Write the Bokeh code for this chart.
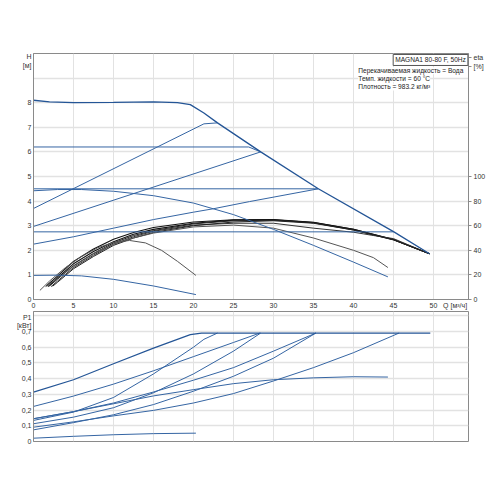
from bokeh.plotting import figure
from bokeh.models import Range1d, LinearAxis, FixedTicker, Label
from bokeh.layouts import column
from bokeh.embed import file_html
from bokeh.resources import INLINE

# ---------------- data ----------------
q_ticks = [0, 5, 10, 15, 20, 25, 30, 35, 40, 45, 50]
q_label_pos = 52.7
q_label = "Q [м³/ч]"
h_ticks = [0, 1, 2, 3, 4, 5, 6, 7, 8]
h_grid = [0, 1, 2, 3, 4, 5, 6, 7, 8, 9, 10]
h_label_pos = [9.88, 9.5]
h_label = ["H", "[м]"]
eta_ticks = [0, 20, 40, 60, 80, 100]
eta_label_pos = [196.8, 189.4]
eta_label = ["eta", "[%]"]
p_ticks = [0.0, 0.1, 0.2, 0.3, 0.4, 0.5, 0.6, 0.7]
p_grid = [0.0, 0.1, 0.2, 0.3, 0.4, 0.5, 0.6, 0.7, 0.8]
p_labels = ["0", "0,1", "0,2", "0,3", "0,4", "0,5", "0,6", "0,7"]
p_label_pos = [0.79, 0.737]
p_label = ["P1", "[кВт]"]

# head curves (Q m3/h, H m)
max_q = [0, 2, 5, 10, 15, 18, 19.6, 21.3, 23, 28.4, 35.6, 45, 49.5]
max_h = [8.1, 8.03, 8.0, 8.01, 8.03, 8.0, 7.92, 7.58, 7.18, 6.0, 4.5, 2.76, 1.86]
c62_q = [0, 26.9, 28.4]
c62_h = [6.2, 6.2, 6.0]
c45_q = [0, 35.6]
c45_h = [4.5, 4.5]
c275_q = [0, 45.0]
c275_h = [2.75, 2.75]
pa_q = [0, 21.3, 23]
pa_h = [3.7, 7.14, 7.18]
pb_q = [0, 28.4]
pb_h = [2.97, 6.0]
pc_q = [0, 5, 10, 15, 20, 22.5, 27, 35.6]
pc_h = [2.25, 2.55, 2.9, 3.25, 3.55, 3.69, 3.98, 4.5]
ad_q = [0, 3, 6, 10, 15, 20, 25, 30, 35, 40, 44.3]
ad_h = [4.42, 4.47, 4.47, 4.4, 4.22, 3.92, 3.45, 2.85, 2.2, 1.52, 0.92]
lo_q = [0, 3, 6, 10, 15, 20.3]
lo_h = [0.98, 0.99, 0.96, 0.82, 0.55, 0.2]

# efficiency curves (Q m3/h, eta %)
e1_q = [0.8, 2, 4, 6, 8, 10, 12, 14, 16, 18, 20.3]
e1_v = [7.4, 15, 26, 35, 42, 46.4, 48, 46, 40, 31, 19.6]
e2_q = [1.5, 3, 5, 7.5, 10, 12.5, 15, 20, 25, 30, 35, 40, 42.5, 44.3]
e2_v = [10.5, 17, 27, 37, 45, 50, 54, 59, 60.5, 58, 50, 40, 34, 26]
k1_q = [1.6, 3, 5, 7.5, 10, 12.5, 15, 20, 25, 30, 35, 40, 45, 49.5]
k1_v = [11, 19, 31, 41, 49, 54.5, 58.5, 63, 64.8, 65, 62.8, 57, 48.8, 37.2]
k2_q = [1.8, 3, 5, 7.5, 10, 12.5, 15, 20, 25, 30, 35, 40, 45, 49.5]
k2_v = [10.5, 17.5, 29, 39, 47, 53, 57, 62, 64.5, 64.8, 62.5, 57, 48.8, 37.2]
k3_q = [2.0, 3, 5, 7.5, 10, 12.5, 15, 20, 25, 30, 35, 40, 45, 49.5]
k3_v = [11, 16.5, 27.5, 37.5, 46, 52, 56, 61.5, 64, 64.5, 62.3, 56.5, 48.5, 37.2]
k4_q = [2.2, 3, 5, 7.5, 10, 12.5, 15, 20, 25, 30, 35, 40, 42.5, 45, 49.5]
k4_v = [10.5, 15, 26, 36, 45, 51, 55.5, 60.5, 62, 62, 58, 54.7, 52, 49.5, 37.2]
k5_q = [2.4, 3, 5, 7.5, 10, 12.5, 15, 20, 25, 30, 35, 40, 45, 49.5]
k5_v = [10.8, 14, 25, 35, 44, 50, 54.5, 60, 63, 64, 62, 56.5, 48.5, 37.2]

# power curves (Q m3/h, P1 kW)
wmax_q = [0, 5, 10, 15, 19.6, 21, 49.6]
wmax_p = [0.314, 0.393, 0.495, 0.594, 0.68, 0.69, 0.69]
w62_q = [0, 5, 10, 15, 20, 25, 28.3]
w62_p = [0.223, 0.289, 0.365, 0.45, 0.54, 0.63, 0.69]
wa_q = [0, 5, 10, 15, 20, 21.3, 23]
wa_p = [0.134, 0.187, 0.28, 0.43, 0.6, 0.65, 0.69]
wb_q = [0, 5, 10, 15, 20, 25, 28.4]
wb_p = [0.113, 0.155, 0.215, 0.31, 0.43, 0.575, 0.69]
w45_q = [0, 5, 10, 15, 20, 25, 30, 35.3]
w45_p = [0.145, 0.19, 0.245, 0.315, 0.39, 0.47, 0.575, 0.69]
wc_q = [0, 5, 10, 15, 20, 25, 30, 35.3]
wc_p = [0.074, 0.12, 0.17, 0.235, 0.32, 0.415, 0.53, 0.69]
w275_q = [0, 5, 10, 15, 20, 25, 30, 35, 40, 45.7]
w275_p = [0.091, 0.125, 0.163, 0.198, 0.245, 0.305, 0.385, 0.47, 0.565, 0.69]
wd_q = [0, 5, 10, 15, 20, 25, 30, 35, 40, 44.3]
wd_p = [0.145, 0.19, 0.24, 0.29, 0.33, 0.368, 0.393, 0.405, 0.412, 0.41]
we_q = [0, 5, 10, 15, 20.3]
we_p = [0.021, 0.033, 0.043, 0.05, 0.053]

title_text = "MAGNA1 80-80 F, 50Hz"
info_lines = ["Перекачиваемая жидкость = Вода",
              "Темп. жидкости = 60 °C",
              "Плотность = 983.2 кг/м³"]

# ---------------- style ----------------
FONT = "Liberation Sans"
BLUE = "#3565a3"
DARKBLUE = "#245596"
GRID = "#e2e2e2"
W = 492
XR = (0, 54.375)


def style_axis(ax, tick_out=0):
    ax.major_label_text_font = FONT
    ax.major_label_text_font_size = "7px"
    ax.major_label_text_color = "#333333"
    ax.axis_line_color = "#8a8a8a"
    ax.major_tick_line_color = "#8a8a8a"
    ax.minor_tick_line_color = None
    ax.major_tick_in = 0
    ax.major_tick_out = tick_out
    ax.major_label_standoff = 2


# ---------------- top: H and eta ----------------
p = figure(width=W, height=311, x_range=Range1d(*XR), y_range=Range1d(0, 10),
           output_backend="svg", toolbar_location=None,
           min_border_left=33, min_border_right=24, min_border_top=53,
           min_border_bottom=12)
p.extra_y_ranges = {"eta": Range1d(0, 200)}
p.outline_line_color = "#8a8a8a"
p.background_fill_color = "white"
p.xaxis.ticker = FixedTicker(ticks=q_ticks + [q_label_pos])
p.xaxis.major_label_overrides = {q_label_pos: q_label}
p.yaxis.ticker = FixedTicker(ticks=h_ticks + h_label_pos)
p.yaxis.major_label_overrides = dict(zip(h_label_pos, h_label))
for ax in p.xaxis + p.yaxis:
    style_axis(ax)
p.xgrid.ticker = FixedTicker(ticks=q_ticks)
p.ygrid.ticker = FixedTicker(ticks=h_grid)
p.xgrid.grid_line_color = GRID
p.ygrid.grid_line_color = GRID
p.ygrid.grid_line_width = 1.6

eta_axis = LinearAxis(y_range_name="eta",
                      ticker=FixedTicker(ticks=eta_ticks + eta_label_pos),
                      major_label_overrides=dict(zip(eta_label_pos, eta_label)))
style_axis(eta_axis, tick_out=3)
p.add_layout(eta_axis, "right")

# efficiency curves
for qq, vv, col, lw in [(k1_q, k1_v, "#111111", 1.1), (k2_q, k2_v, "#111111", 1.1),
                        (k3_q, k3_v, "#222222", 1.0), (k4_q, k4_v, "#333333", 1.0),
                        (k5_q, k5_v, "#222222", 1.0), (e2_q, e2_v, "#555555", 1.0),
                        (e1_q, e1_v, "#555555", 1.0)]:
    p.line(qq, vv, y_range_name="eta", line_color=col, line_width=lw)

# head curves
for qq, hh in [(c62_q, c62_h), (c45_q, c45_h), (c275_q, c275_h), (pa_q, pa_h),
               (pb_q, pb_h), (pc_q, pc_h), (ad_q, ad_h), (lo_q, lo_h)]:
    p.line(qq, hh, line_color=BLUE, line_width=1.0)
p.line(max_q, max_h, line_color=DARKBLUE, line_width=1.3)

# texts inside the frame
p.add_layout(Label(x=54.3, y=9.96, text=title_text, text_align="right",
                   text_baseline="top", text_font=FONT, text_font_size="6.6px",
                   text_color="#222222", border_line_color="#555555",
                   background_fill_color="white", padding=2))
for i, t in enumerate(info_lines):
    p.add_layout(Label(x=40.6, y=9.3 - i * 0.33, text=t, text_align="left",
                       text_baseline="middle", text_font=FONT,
                       text_font_size="6.6px", text_color="#222222",
                       background_fill_color="white"))

# ---------------- bottom: P1 ----------------
b = figure(width=W, height=134, x_range=Range1d(*XR), y_range=Range1d(0, 0.827),
           output_backend="svg", toolbar_location=None,
           min_border_left=33, min_border_right=24, min_border_top=0,
           min_border_bottom=4)
b.outline_line_color = "#8a8a8a"
b.xaxis.visible = False
b.yaxis.ticker = FixedTicker(ticks=p_ticks + p_label_pos)
ov = dict(zip(p_ticks, p_labels))
ov.update(dict(zip(p_label_pos, p_label)))
b.yaxis.major_label_overrides = ov
for ax in b.yaxis:
    style_axis(ax)
b.xgrid.ticker = FixedTicker(ticks=q_ticks)
b.ygrid.ticker = FixedTicker(ticks=p_grid)
b.xgrid.grid_line_color = GRID
b.ygrid.grid_line_color = GRID
b.ygrid.grid_line_width = 1.6

for qq, pp in [(w62_q, w62_p), (wa_q, wa_p), (wb_q, wb_p), (w45_q, w45_p),
               (wc_q, wc_p), (w275_q, w275_p), (wd_q, wd_p), (we_q, we_p)]:
    b.line(qq, pp, line_color=BLUE, line_width=1.0)
b.line(wmax_q, wmax_p, line_color=DARKBLUE, line_width=1.2)

layout = column(p, b, spacing=0)
open("out.html", "w").write(file_html(layout, INLINE))
